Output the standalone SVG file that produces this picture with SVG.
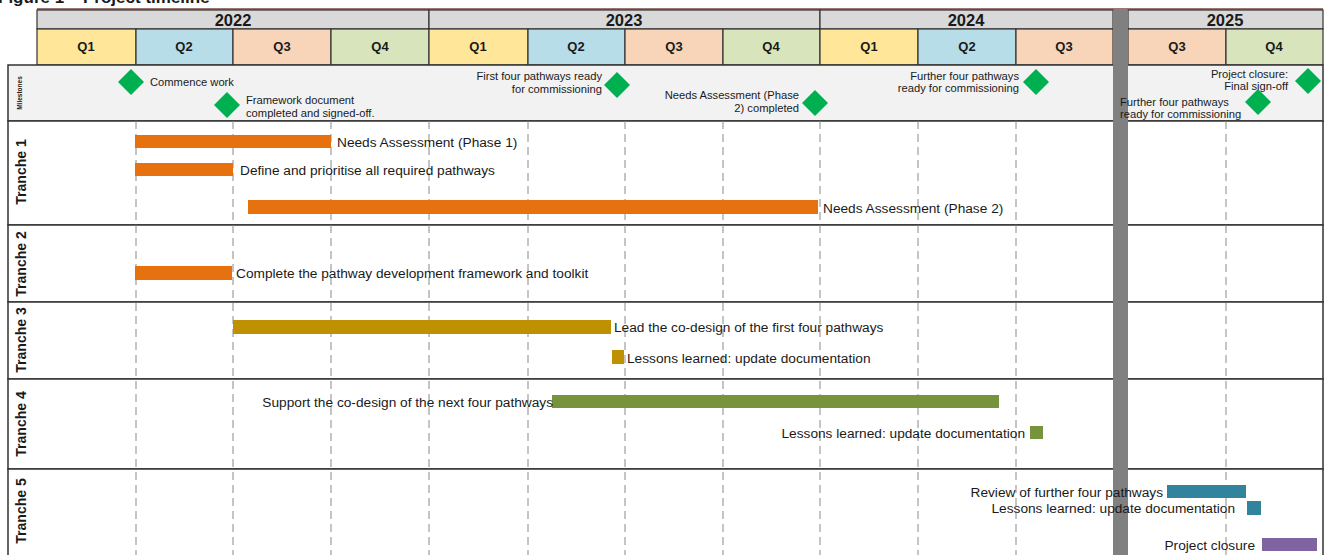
<svg xmlns="http://www.w3.org/2000/svg" width="1330" height="555" viewBox="0 0 1330 555">
<style>
text{font-family:"Liberation Sans",Arial,sans-serif;fill:#1a1a1a}
.yr{font-size:16.5px;font-weight:bold;text-anchor:middle}
.q{font-size:13px;font-weight:bold;text-anchor:middle}
.ms{font-size:11.2px}
.lbl{font-size:13.7px}
.tr{font-size:14px;font-weight:bold;text-anchor:middle}
.hdr{stroke:#333;stroke-width:1.2}
.row{fill:#fff;stroke:#333;stroke-width:1.5}
.dash{stroke:#8a8a8a;stroke-width:1;stroke-dasharray:8 5}
.dia{fill:#00b050}
.q1{fill:#ffe699}.q2{fill:#b7dde8}.q3{fill:#f8d5b8}.q4{fill:#d8e4bc}
.or{fill:#e8710f}.gd{fill:#bf9000}.gr{fill:#77933c}.tl{fill:#31849b}.pu{fill:#8064a2}
</style>
<rect width="1330" height="555" fill="#fff"/>
<text x="-2" y="3" style="font-size:17px;font-weight:bold">Figure 1 – Project timeline</text>
<line x1="37" y1="9" x2="1323" y2="9" stroke="#7a4a40" stroke-width="1.5"/>

<g id="header">
<rect class="hdr" x="37" y="10" width="392" height="19" fill="#d9d9d9"/>
<rect class="hdr" x="429" y="10" width="391" height="19" fill="#d9d9d9"/>
<rect class="hdr" x="820" y="10" width="293" height="19" fill="#d9d9d9"/>
<rect class="hdr" x="1128" y="10" width="195" height="19" fill="#d9d9d9"/>
<text class="yr" x="233" y="26">2022</text>
<text class="yr" x="624" y="26">2023</text>
<text class="yr" x="966" y="26">2024</text>
<text class="yr" x="1225" y="26">2025</text>
<rect class="hdr q1" x="37" y="29" width="99" height="36"/>
<rect class="hdr q2" x="136" y="29" width="97" height="36"/>
<rect class="hdr q3" x="233" y="29" width="98" height="36"/>
<rect class="hdr q4" x="331" y="29" width="98" height="36"/>
<rect class="hdr q1" x="429" y="29" width="99" height="36"/>
<rect class="hdr q2" x="528" y="29" width="97" height="36"/>
<rect class="hdr q3" x="625" y="29" width="98" height="36"/>
<rect class="hdr q4" x="723" y="29" width="97" height="36"/>
<rect class="hdr q1" x="820" y="29" width="98" height="36"/>
<rect class="hdr q2" x="918" y="29" width="98" height="36"/>
<rect class="hdr q3" x="1016" y="29" width="97" height="36"/>
<rect class="hdr q3" x="1128" y="29" width="98" height="36"/>
<rect class="hdr q4" x="1226" y="29" width="97" height="36"/>
<text class="q" x="86" y="51">Q1</text>
<text class="q" x="184" y="51">Q2</text>
<text class="q" x="282" y="51">Q3</text>
<text class="q" x="380" y="51">Q4</text>
<text class="q" x="478" y="51">Q1</text>
<text class="q" x="576" y="51">Q2</text>
<text class="q" x="674" y="51">Q3</text>
<text class="q" x="771" y="51">Q4</text>
<text class="q" x="869" y="51">Q1</text>
<text class="q" x="967" y="51">Q2</text>
<text class="q" x="1064" y="51">Q3</text>
<text class="q" x="1177" y="51">Q3</text>
<text class="q" x="1274" y="51">Q4</text>
</g>

<g id="rows">
<rect x="8" y="65" width="1315" height="56" fill="#f2f2f2" stroke="#333" stroke-width="1.5"/>
<rect class="row" x="8" y="121" width="1315" height="104"/>
<rect class="row" x="8" y="225" width="1315" height="77"/>
<rect class="row" x="8" y="302" width="1315" height="77"/>
<rect class="row" x="8" y="379" width="1315" height="90"/>
<rect class="row" x="8" y="469" width="1315" height="90"/>
<text x="22" y="93" transform="rotate(-90 22 93)" style="font-size:6.5px;font-weight:bold;text-anchor:middle">Milestones</text>
<text class="tr" x="26" y="172" transform="rotate(-90 26 172)">Tranche 1</text>
<text class="tr" x="26" y="264" transform="rotate(-90 26 264)">Tranche 2</text>
<text class="tr" x="26" y="340" transform="rotate(-90 26 340)">Tranche 3</text>
<text class="tr" x="26" y="424" transform="rotate(-90 26 424)">Tranche 4</text>
<text class="tr" x="26" y="511" transform="rotate(-90 26 511)">Tranche 5</text>
</g>

<g id="gridlines">
<line class="dash" x1="136" y1="121" x2="136" y2="555"/>
<line class="dash" x1="233" y1="121" x2="233" y2="555"/>
<line class="dash" x1="331" y1="121" x2="331" y2="555"/>
<line class="dash" x1="429" y1="121" x2="429" y2="555"/>
<line class="dash" x1="528" y1="121" x2="528" y2="555"/>
<line class="dash" x1="625" y1="121" x2="625" y2="555"/>
<line class="dash" x1="723" y1="121" x2="723" y2="555"/>
<line class="dash" x1="820" y1="121" x2="820" y2="555"/>
<line class="dash" x1="918" y1="121" x2="918" y2="555"/>
<line class="dash" x1="1016" y1="121" x2="1016" y2="555"/>
<line class="dash" x1="1226" y1="121" x2="1226" y2="555"/>
</g>

<rect id="break" x="1113" y="10" width="15" height="545" fill="#808080"/>

<g id="milestones">
<g id="m1"><polygon class="dia" points="131,69 144,82 131,95 118,82"/><text class="ms" x="150" y="86">Commence work</text></g>
<g id="m2"><polygon class="dia" points="227,92 240,105 227,118 214,105"/><text class="ms" x="246" y="104">Framework document</text><text class="ms" x="246" y="116.5">completed and signed-off.</text></g>
<g id="m3"><polygon class="dia" points="617,72 630,85 617,98 604,85"/><text class="ms" x="602" y="80" text-anchor="end">First four pathways ready</text><text class="ms" x="602" y="92.5" text-anchor="end">for commissioning</text></g>
<g id="m4"><polygon class="dia" points="815,90 828,103 815,116 802,103"/><text class="ms" x="799" y="99" text-anchor="end">Needs Assessment (Phase</text><text class="ms" x="799" y="111.5" text-anchor="end">2) completed</text></g>
<g id="m5"><polygon class="dia" points="1036,69 1049,82 1036,95 1023,82"/><text class="ms" x="1019" y="79.5" text-anchor="end">Further four pathways</text><text class="ms" x="1019" y="92" text-anchor="end">ready for commissioning</text></g>
<g id="m6"><polygon class="dia" points="1308,68 1321,81 1308,94 1295,81"/><text class="ms" x="1288" y="77.5" text-anchor="end">Project closure:</text><text class="ms" x="1288" y="90" text-anchor="end">Final sign-off</text></g>
<g id="m7"><polygon class="dia" points="1258,89 1271,102 1258,115 1245,102"/><text class="ms" x="1120" y="105.5">Further four pathways</text><text class="ms" x="1120" y="118">ready for commissioning</text></g>
</g>

<g id="tasks">
<g id="t1a"><rect class="or" x="135" y="135" width="196" height="13"/><text class="lbl" x="337" y="146.5">Needs Assessment (Phase 1)</text></g>
<g id="t1b"><rect class="or" x="135" y="163" width="98" height="13"/><text class="lbl" x="240" y="174.5">Define and prioritise all required pathways</text></g>
<g id="t1c"><rect class="or" x="248" y="200" width="570" height="14"/><text class="lbl" x="823" y="212.5">Needs Assessment (Phase 2)</text></g>
<g id="t2a"><rect class="or" x="135" y="266" width="97" height="14"/><text class="lbl" x="236" y="277.5">Complete the pathway development framework and toolkit</text></g>
<g id="t3a"><rect class="gd" x="233" y="320" width="378" height="14"/><text class="lbl" x="614" y="331.5">Lead the co-design of the first four pathways</text></g>
<g id="t3b"><rect class="gd" x="612" y="350" width="12" height="14"/><text class="lbl" x="627" y="362.5">Lessons learned: update documentation</text></g>
<g id="t4a"><rect class="gr" x="552" y="395" width="447" height="13"/><text class="lbl" x="553" y="406.5" text-anchor="end">Support the co-design of the next four pathways</text></g>
<g id="t4b"><rect class="gr" x="1030" y="426" width="13" height="13"/><text class="lbl" x="1025" y="437.5" text-anchor="end">Lessons learned: update documentation</text></g>
<g id="t5a"><rect class="tl" x="1167" y="485" width="79" height="13"/><text class="lbl" x="1163" y="496.5" text-anchor="end">Review of further four pathways</text></g>
<g id="t5b"><rect class="tl" x="1247" y="501" width="14" height="14"/><text class="lbl" x="1235" y="512.5" text-anchor="end">Lessons learned: update documentation</text></g>
<g id="t5c"><rect class="pu" x="1262" y="538" width="55" height="13"/><text class="lbl" x="1255" y="549.5" text-anchor="end">Project closure</text></g>
</g>
</svg>
